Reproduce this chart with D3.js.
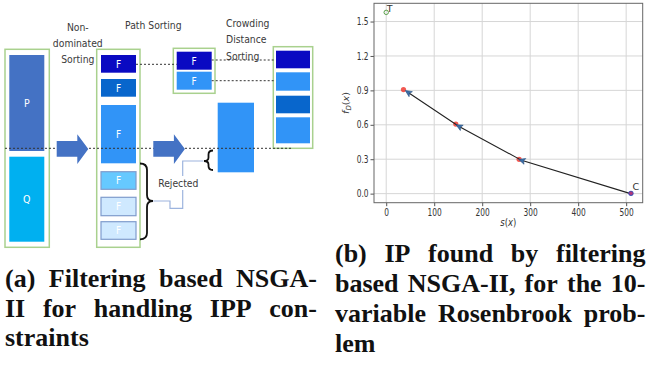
<!DOCTYPE html>
<html>
<head>
<meta charset="utf-8">
<script src="https://cdn.jsdelivr.net/npm/d3@7"></script>
<style>
  body { margin: 0; background: #fff; }
  svg { display: block; }
</style>
</head>
<body>
<svg id="fig" width="650" height="371"></svg>
<script>
// ---- (b) ideal-point search for the 10-variable Rosenbrook problem ----
// path followed by the reference direction, from C toward T
const pathS = [509, 282, 151, 45];
const pathF = [0.0, 0.29, 0.588, 0.884];
// ideal points found by filtering based NSGA-II
const ipS = [36, 145, 277];
const ipF = [0.907, 0.606, 0.299];
// labelled anchor points
const anchorLabels = ["T", "C"];
const anchorS = [0, 510];
const anchorF = [1.58, 0.003];
// axis ticks
const xTicks = [0, 100, 200, 300, 400, 500];
const yTicks = [0.0, 0.3, 0.6, 0.9, 1.2, 1.5];

// ---- (a) filtering based NSGA-II diagram ----
const stageTitles = [["Non-", "dominated", "Sorting"], ["Path Sorting"], ["Crowding", "Distance", "Sorting"]];
const populationLabels = ["P", "Q"];
const frontLabels = ["F", "F", "F", "F", "F", "F"];
const rejectedLabel = "Rejected";

// ---- captions ----
const captionA = ["(a) Filtering based NSGA-", "II for handling IPP con-", "straints"];
const captionB = ["(b) IP found by filtering", "based NSGA-II, for the 10-", "variable Rosenbrook prob-", "lem"];

const svg = d3.select("#fig");

// =================== diagram ===================
const col = {
  green: "#a9d18e", pblue: "#4472c4", qblue: "#00b0f0",
  f1: "#0a0ac2", f2: "#0866cc", f3: "#3194f7", f4: "#66c9ff", f5: "#cfe9ff",
  edge: "#7f9ccd", link: "#9db4de", text: "#3a3a3a"
};
const dg = svg.append("g");
const sansNarrow = "'Liberation Sans Narrow', 'DejaVu Sans Condensed', 'Liberation Sans', sans-serif";

// green containers
[[5, 49.3, 44.3, 198], [96.7, 49.3, 43.3, 198], [173.3, 48.3, 41.7, 45], [273.3, 46.7, 39.4, 101.6]]
  .forEach(([x, y, w, h]) => dg.append("rect").attr("x", x).attr("y", y).attr("width", w).attr("height", h)
    .attr("fill", "none").attr("stroke", col.green).attr("stroke-width", 1.5));

// P and Q
const popBoxes = [[9.3, 55, 35, 96, col.pblue], [9.3, 156.7, 35, 85, col.qblue]];
popBoxes.forEach(([x, y, w, h, c], i) => {
  dg.append("rect").attr("x", x).attr("y", y).attr("width", w).attr("height", h).attr("fill", c);
  dg.append("text").attr("x", x + w / 2).attr("y", y + h / 2 + 4).attr("text-anchor", "middle")
    .attr("font-family", sansNarrow).attr("font-size", 10.5).attr("fill", "#fff").text(populationLabels[i]);
});

// sorted fronts
const frontBoxes = [
  [55, 17.7, col.f1, null], [79, 17.7, col.f2, null], [105, 58.3, col.f3, null],
  [171.7, 17.6, col.f4, col.edge], [197.3, 18.4, col.f5, col.edge], [221.7, 17.6, col.f5, col.edge]
];
frontBoxes.forEach(([y, h, c, s], i) => {
  dg.append("rect").attr("x", 101).attr("y", y).attr("width", 35).attr("height", h).attr("fill", c)
    .attr("stroke", s || "none").attr("stroke-width", s ? 1.2 : 0);
  dg.append("text").attr("x", 118.5).attr("y", y + h / 2 + 3.8).attr("text-anchor", "middle")
    .attr("font-family", sansNarrow).attr("font-size", 10).attr("fill", "#fff").text(frontLabels[i]);
});

// path sorting of the last accepted front
[[51.7, col.f1], [71.7, col.f3]].forEach(([y, c]) => {
  dg.append("rect").attr("x", 176.7).attr("y", y).attr("width", 35).attr("height", 18).attr("fill", c);
  dg.append("text").attr("x", 194.2).attr("y", y + 12.8).attr("text-anchor", "middle")
    .attr("font-family", sansNarrow).attr("font-size", 10).attr("fill", "#fff").text("F");
});

// final population after crowding distance sorting
[[50.7, 17.6, col.f1], [72.3, 18.4, col.f3], [95.7, 17.6, col.f2], [117.3, 26, col.f3]]
  .forEach(([y, h, c]) => dg.append("rect").attr("x", 276).attr("y", y).attr("width", 34).attr("height", h).attr("fill", c));

// remaining part of the split front
dg.append("rect").attr("x", 217.7).attr("y", 102.7).attr("width", 36.3).attr("height", 69.6).attr("fill", col.f3);

// dotted guide lines
const dash = [[5, 148.3, 293, 148.3], [136, 64.3, 176.7, 64.3], [211.7, 60, 275, 60], [211.7, 80.7, 275, 80.7]];
dash.forEach(([x1, y1, x2, y2]) => dg.append("line").attr("x1", x1).attr("y1", y1).attr("x2", x2).attr("y2", y2)
  .attr("stroke", "#333").attr("stroke-width", 1).attr("stroke-dasharray", "2,2"));

// block arrows
const arrowShape = x0 => [[x0, 141], [x0 + 20.6, 141], [x0 + 20.6, 134.3], [x0 + 31.6, 149], [x0 + 20.6, 164], [x0 + 20.6, 156.7], [x0, 156.7]];
[56.7, 153.3].forEach(x0 => dg.append("polygon").attr("points", arrowShape(x0).map(p => p.join(",")).join(" ")).attr("fill", col.pblue));

// rejection link
dg.append("polyline").attr("points", "153.3,201 170,201 170,208.3 182.7,208.3 182.7,161 203.5,161")
  .attr("fill", "none").attr("stroke", col.link).attr("stroke-width", 1.2);
dg.append("rect").attr("x", 159).attr("y", 176).attr("width", 39).attr("height", 14).attr("fill", "#fff");
dg.append("text").attr("x", 178.3).attr("y", 187).attr("text-anchor", "middle")
  .attr("font-family", sansNarrow).attr("font-size", 10.3).attr("fill", col.text).text(rejectedLabel);

// braces
dg.append("path").attr("d", "M140,163.5 Q147,163.5 147,170 L147,195 Q147,201 153,201 Q147,201 147,207 L147,233 Q147,239.3 140,239.3")
  .attr("fill", "none").attr("stroke", "#111").attr("stroke-width", 1.8);
dg.append("path").attr("d", "M213,150.5 Q208.5,150.5 208.5,154.5 L208.5,157.5 Q208.5,161 204,161 Q208.5,161 208.5,164.5 L208.5,166 Q208.5,170 213,170")
  .attr("fill", "none").attr("stroke", "#111").attr("stroke-width", 1.8);

// stage titles
const titlePos = [{ x: 77.8, y: 30.5, anchor: "middle" }, { x: 153.3, y: 29, anchor: "middle" }, { x: 226, y: 27, anchor: "start" }];
stageTitles.forEach((lines, i) => {
  lines.forEach((t, j) => dg.append("text").attr("x", titlePos[i].x).attr("y", titlePos[i].y + j * 16.3)
    .attr("text-anchor", titlePos[i].anchor).attr("font-family", sansNarrow).attr("font-size", 10.3)
    .attr("fill", col.text).text(t));
});

// =================== plot ===================
const plot = { left: 374, right: 642.7, top: 3.3, bottom: 202.7 };
const x = d3.scaleLinear().domain([-25.45, 534.45]).range([plot.left, plot.right]);
const y = d3.scaleLinear().domain([-0.079, 1.659]).range([plot.bottom, plot.top]);
const pg = svg.append("g");
const tickFont = "'DejaVu Sans', sans-serif";

// grid
pg.selectAll(".gx").data(xTicks).join("line").attr("x1", d => x(d)).attr("x2", d => x(d))
  .attr("y1", plot.top).attr("y2", plot.bottom).attr("stroke", "#d6d6d6").attr("stroke-width", 1);
pg.selectAll(".gy").data(yTicks).join("line").attr("y1", d => y(d)).attr("y2", d => y(d))
  .attr("x1", plot.left).attr("x2", plot.right).attr("stroke", "#d6d6d6").attr("stroke-width", 1);

// axes
const xAxis = d3.axisBottom(x).tickValues(xTicks).tickSize(3.5).tickPadding(2).tickFormat(d3.format("d"));
const yAxis = d3.axisLeft(y).tickValues(yTicks).tickSize(3.5).tickPadding(2).tickFormat(d3.format(".1f"));
const gx = pg.append("g").attr("transform", `translate(0,${plot.bottom})`).call(xAxis);
const gy = pg.append("g").attr("transform", `translate(${plot.left},0)`).call(yAxis);
[gx, gy].forEach(g => {
  g.select(".domain").remove();
  g.selectAll(".tick line").attr("stroke", "#555");
  g.selectAll(".tick text").attr("font-family", tickFont).attr("font-size", 9.8).attr("fill", "#333");
});
gx.selectAll(".tick text").attr("transform", "scale(0.76,1)").attr("x", 0).attr("y", 6).attr("dy", "0.71em");
gy.selectAll(".tick text").attr("transform", "translate(-5.5,0) scale(0.76,1)").attr("x", 0);

// frame
pg.append("rect").attr("x", plot.left).attr("y", plot.top).attr("width", plot.right - plot.left)
  .attr("height", plot.bottom - plot.top).attr("fill", "none").attr("stroke", "#666").attr("stroke-width", 1);

// axis titles
pg.append("text").attr("transform", `translate(${(plot.left + plot.right) / 2},225.5) scale(0.85,1)`)
  .attr("text-anchor", "middle").attr("font-family", tickFont).attr("font-size", 10).attr("fill", "#333")
  .html('<tspan font-style="italic">s</tspan>(<tspan font-style="italic">x</tspan>)');
pg.append("text").attr("transform", `translate(349,${(plot.top + plot.bottom) / 2}) rotate(-90)`)
  .attr("text-anchor", "middle").attr("font-family", tickFont).attr("font-size", 9.5).attr("fill", "#333")
  .html('<tspan font-style="italic">f</tspan><tspan font-style="italic" font-size="7" dy="2">D</tspan><tspan dy="-2">(</tspan><tspan font-style="italic">x</tspan>)');

// ideal points (red)
pg.selectAll(".ip").data(ipS).join("circle").attr("cx", d => x(d)).attr("cy", (d, i) => y(ipF[i]))
  .attr("r", 2.6).attr("fill", "#ee3b32").attr("opacity", 0.85);

// search path
const line = d3.line().x((d, i) => x(pathS[i])).y((d, i) => y(pathF[i]));
pg.append("path").attr("d", line(pathS)).attr("fill", "none").attr("stroke", "#222").attr("stroke-width", 1.1);

// arrowheads along the path
pathS.forEach((s, i) => {
  if (i === 0) return;
  const x0 = x(pathS[i - 1]), y0 = y(pathF[i - 1]), x1 = x(s), y1 = y(pathF[i]);
  const a = Math.atan2(y1 - y0, x1 - x0) * 180 / Math.PI;
  pg.append("path").attr("d", "M3,0 L-3.5,-3 L-2,0 L-3.5,3 Z")
    .attr("transform", `translate(${x1},${y1}) rotate(${a})`)
    .attr("fill", "#3a6fa8").attr("stroke", "#2a5282").attr("stroke-width", 0.6);
});

// anchor points T and C
pg.append("circle").attr("cx", x(anchorS[0])).attr("cy", y(anchorF[0])).attr("r", 2.2)
  .attr("fill", "none").attr("stroke", "#5aa04a").attr("stroke-width", 1);
pg.append("circle").attr("cx", x(anchorS[1])).attr("cy", y(anchorF[1])).attr("r", 2.6).attr("fill", "#3a4fb8");
pg.append("circle").attr("cx", x(anchorS[1])).attr("cy", y(anchorF[1])).attr("r", 1.8).attr("fill", "#d0306a").attr("opacity", 0.8);
anchorLabels.forEach((t, i) => pg.append("text").attr("x", x(anchorS[i]) + (i ? 1.5 : 0.5)).attr("y", y(anchorF[i]) - (i ? 3 : 0.5))
  .attr("font-family", tickFont).attr("font-size", 9.5).attr("fill", "#333").text(t));

// =================== captions ===================
const capFont = "'Liberation Serif', 'Times New Roman', serif";
function setLine(words, x0, x1, baseline, justify) {
  const g = svg.append("g").attr("font-family", capFont).attr("font-weight", "bold")
    .attr("font-size", 26).attr("fill", "#111");
  const spans = words.map(w => g.append("text").attr("y", baseline).text(w));
  const widths = spans.map(s => s.node().getComputedTextLength());
  const gap = justify && words.length > 1 ? (x1 - x0 - d3.sum(widths)) / (words.length - 1) : 6.5;
  let cx = x0;
  spans.forEach((s, i) => { s.attr("x", cx); cx += widths[i] + gap; });
}
captionA.forEach((l, i) => setLine(l.split(" "), 5, 317, 287.3 + i * 29.2, i < captionA.length - 1));
captionB.forEach((l, i) => setLine(l.split(" "), 335, 645.5, 262.3 + i * 29.8, i < captionB.length - 1));
</script>
</body>
</html>
